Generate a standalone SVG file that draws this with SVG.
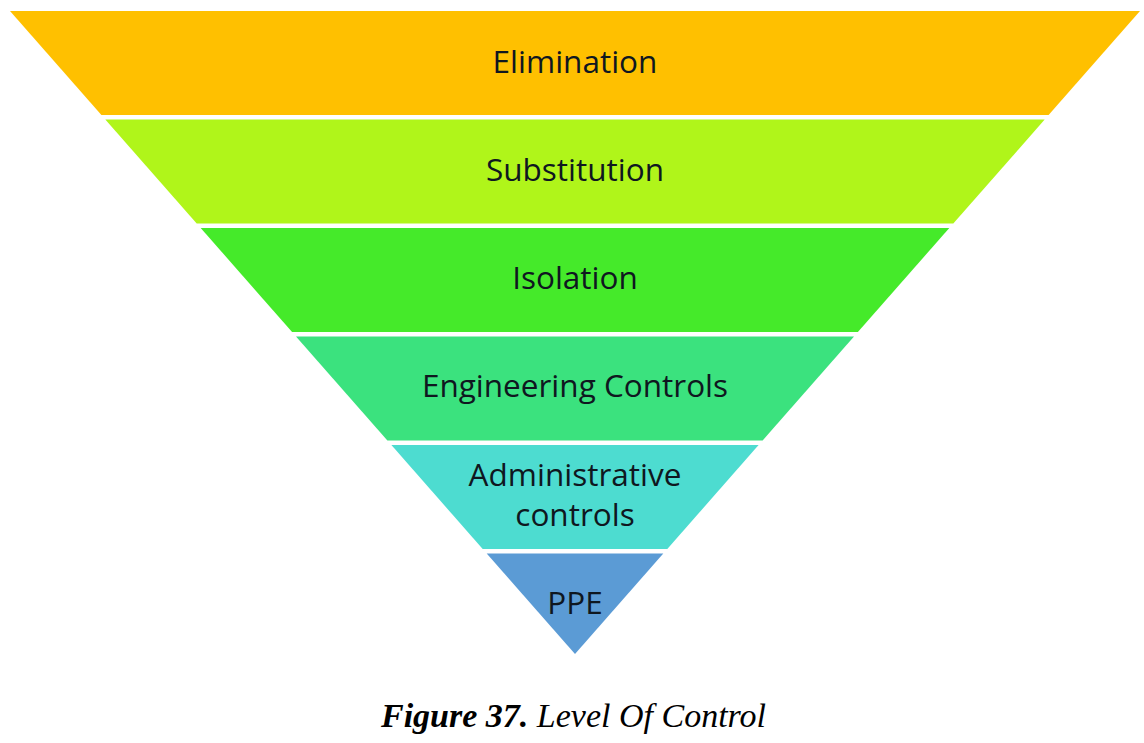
<svg xmlns="http://www.w3.org/2000/svg" width="1144" height="743" viewBox="0 0 1144 743">
<style>
.lbl{font-family:"Open Sans","Liberation Sans",sans-serif;font-size:31.5px;fill:#0f1720;text-anchor:middle}
.cap{font-family:"Liberation Serif",serif;font-size:34px;font-style:italic;fill:#000}
</style>
<rect width="1144" height="743" fill="#fff"/>
<g id="elimination">
<polygon points="10,11 1140,11 1048.6,115 101.4,115" fill="#FFC000"/>
<text class="lbl" x="575" y="73">Elimination</text>
</g>
<g id="substitution">
<polygon points="105.3,119.5 1044.7,119.5 953.3,223.5 196.7,223.5" fill="#B0F51A"/>
<text class="lbl" x="575" y="181">Substitution</text>
</g>
<g id="isolation">
<polygon points="200.7,228 949.3,228 857.9,332 292.1,332" fill="#45EA2A"/>
<text class="lbl" x="575" y="289">Isolation</text>
</g>
<g id="engineering">
<polygon points="296,336.5 854,336.5 762.6,440.5 387.4,440.5" fill="#3BE27E"/>
<text class="lbl" x="575" y="397">Engineering Controls</text>
</g>
<g id="administrative">
<polygon points="391.4,445 758.6,445 667.3,549 482.7,549" fill="#4DDCD0"/>
<text class="lbl" x="575" y="486">Administrative</text>
<text class="lbl" x="575" y="526">controls</text>
</g>
<g id="ppe">
<polygon points="486.7,553.5 663.3,553.5 575,654" fill="#5B9BD5"/>
<text class="lbl" x="575" y="614">PPE</text>
</g>
<g id="connectors"/>
<text class="cap" x="381" y="727"><tspan font-weight="bold">Figure 37.</tspan> Level Of Control</text>
</svg>
